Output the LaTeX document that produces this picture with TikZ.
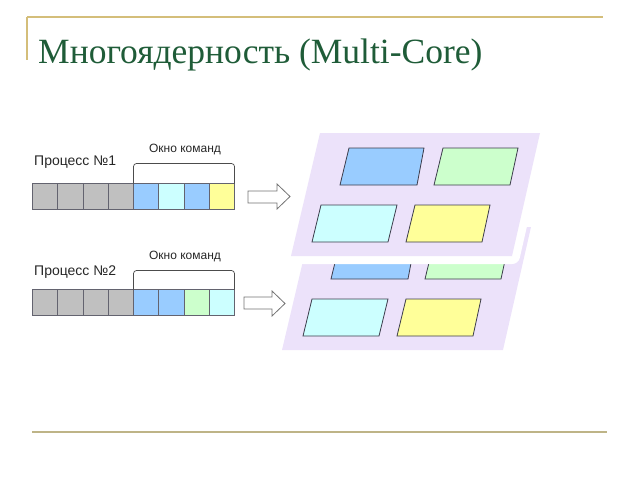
\documentclass[tikz,border=0pt]{standalone}
\usepackage{fontspec}
\setmainfont{Liberation Serif}
\newfontfamily\lsans{Liberation Sans}
\definecolor{titlegreen}{RGB}{31,92,56}
\definecolor{rulegold}{RGB}{212,190,122}
\definecolor{rulegray}{RGB}{190,180,135}
\definecolor{cgray}{RGB}{192,192,192}
\definecolor{cblue}{RGB}{153,204,255}
\definecolor{ccyan}{RGB}{204,255,255}
\definecolor{cgreen}{RGB}{204,255,204}
\definecolor{cyellow}{RGB}{255,255,153}
\definecolor{plane}{RGB}{236,226,250}
\definecolor{edgec}{RGB}{60,60,75}
\begin{document}
\begin{tikzpicture}[x=1pt,y=-1pt,
  cell/.style={draw=edgec!80, line width=0.8pt, minimum width=25.25pt, minimum height=26pt, inner sep=0pt, outer sep=0pt, anchor=north west},
  lbl/.style={font=\lsans\fontsize{14}{16}\selectfont, text=black!85, anchor=west, inner sep=0pt},
  wlbl/.style={font=\lsans\fontsize{12}{14}\selectfont, text=black!85, inner sep=0pt},
  brace/.style={draw=black!70, line width=0.7pt, rounded corners=3pt},
  barrow/.style={draw=black!55, line width=0.8pt, fill=white},
  core/.style={draw=edgec, line width=0.8pt},
]
\useasboundingbox (0,0) rectangle (640,480);
% rules
\draw[rulegold, line width=1.8pt] (27,17) -- (603,17);
\draw[rulegold, line width=1.8pt] (27,17) -- (27,60);
\draw[rulegray, line width=1.8pt] (32,432) -- (607,432);
% title
\node[anchor=base west, inner sep=0pt, text=titlegreen, font=\fontsize{35.5}{40}\selectfont] (title) at (38,63) {Многоядерность (Multi-Core)};

% process 1
\node[lbl] (p1) at (34,162) {Процесс №1};
\node[cell, fill=cgray] (a1) at (32.5,183.5) {};
\node[cell, fill=cgray] (a2) at (a1.north east) {};
\node[cell, fill=cgray] (a3) at (a2.north east) {};
\node[cell, fill=cgray] (a4) at (a3.north east) {};
\node[cell, fill=cblue] (a5) at (a4.north east) {};
\node[cell, fill=ccyan] (a6) at (a5.north east) {};
\node[cell, fill=cblue] (a7) at (a6.north east) {};
\node[cell, fill=cyellow] (a8) at (a7.north east) {};
\draw[brace] (a5.north west) -- ++(0,-20) -| (a8.north east);
\node[wlbl] (w1) at (185,150) {Окно команд};

% process 2
\node[lbl] (p2) at (34,272) {Процесс №2};
\node[cell, fill=cgray] (b1) at (32.5,289.5) {};
\node[cell, fill=cgray] (b2) at (b1.north east) {};
\node[cell, fill=cgray] (b3) at (b2.north east) {};
\node[cell, fill=cgray] (b4) at (b3.north east) {};
\node[cell, fill=cblue] (b5) at (b4.north east) {};
\node[cell, fill=cblue] (b6) at (b5.north east) {};
\node[cell, fill=cgreen] (b7) at (b6.north east) {};
\node[cell, fill=ccyan] (b8) at (b7.north east) {};
\draw[brace] (b5.north west) -- ++(0,-19) -| (b8.north east);
\node[wlbl] (w2) at (185,257) {Окно команд};

% block arrows
\draw[barrow] (248,191) -- (277,191) -- (277,184) -- (290,196.5) -- (277,209) -- (277,203) -- (248,203) -- cycle;
\draw[barrow] (244,297) -- (272,297) -- (272,291) -- (285,303.5) -- (272,316) -- (272,309) -- (244,309) -- cycle;

% lower core plane
\fill[plane] (311,227) -- (531,227) -- (503,350) -- (282,350) -- cycle;
\draw[core, fill=cblue] (340,242) -- (415,242) -- (408,279) -- (331,279) -- cycle;
\draw[core, fill=cgreen] (434,242) -- (509,242) -- (501,279) -- (425,279) -- cycle;
\draw[core, fill=ccyan] (312,299) -- (388,299) -- (379,336) -- (303,336) -- cycle;
\draw[core, fill=cyellow] (406,299) -- (481,299) -- (473,336) -- (397,336) -- cycle;

% upper core plane with white rim
\draw[white, line width=16pt, line join=round] (320,133) -- (540,133) -- (512,256) -- (291,256) -- cycle;
\fill[plane] (320,133) -- (540,133) -- (512,256) -- (291,256) -- cycle;
\draw[core, fill=cblue] (349,148) -- (424,148) -- (417,185) -- (340,185) -- cycle;
\draw[core, fill=cgreen] (443,148) -- (518,148) -- (510,185) -- (434,185) -- cycle;
\draw[core, fill=ccyan] (321,205) -- (397,205) -- (388,242) -- (312,242) -- cycle;
\draw[core, fill=cyellow] (415,205) -- (490,205) -- (482,242) -- (406,242) -- cycle;
\end{tikzpicture}
\end{document}
